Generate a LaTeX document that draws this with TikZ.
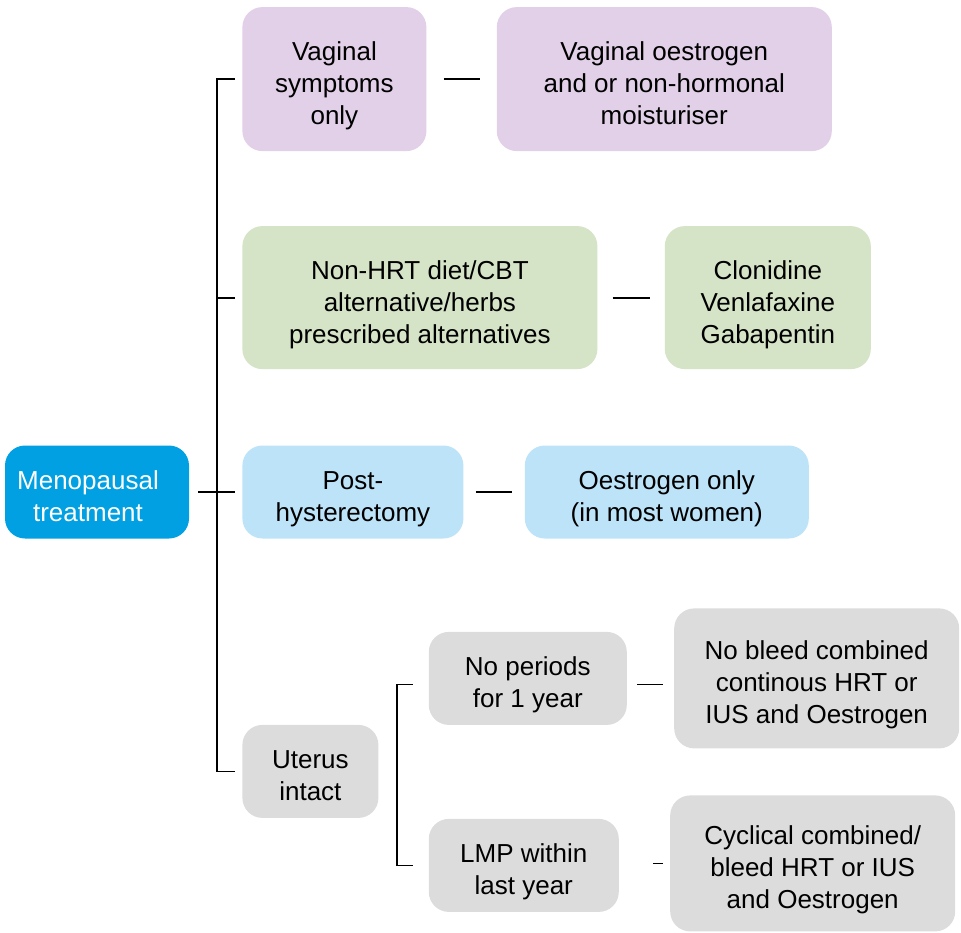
\documentclass[tikz,border=0pt]{standalone}
\usepackage{fontspec}
\setmainfont{Liberation Sans}
\usepackage{tikz}
\usetikzlibrary{positioning}
\usepackage{xcolor}

\definecolor{menoblue}{RGB}{0,160,227}
\definecolor{postblue}{RGB}{189,227,248}
\definecolor{vagpurple}{RGB}{225,208,232}
\definecolor{hrtgreen}{RGB}{213,227,198}
\definecolor{uterusgrey}{RGB}{220,220,220}

\begin{document}
\begin{tikzpicture}[x=1pt, y=-1pt,
        box/.style={rectangle, rounded corners=20pt, inner sep=0pt, align=center,
                    font=\fontsize{26}{32}\selectfont, minimum height=93pt,
                    text height=59pt, text depth=0pt},
        tall/.style={text height=91pt},
        rootbox/.style={box, fill=menoblue, text=white, execute at end node={\hspace*{18pt}}},
        bluebox/.style={box, fill=postblue},
        purplebox/.style={box, tall, fill=vagpurple, minimum height=144pt},
        greenbox/.style={box, tall, fill=hrtgreen, minimum height=143pt},
        greybox/.style={box, fill=uterusgrey},
        link/.style={line width=1.8pt}]

        \useasboundingbox (0,0) rectangle (961,932);

        % NODES
        % -----------------

        \node[rootbox, minimum width=184pt] at (97,492) (treat) {Menopausal\\treatment};

        \node[bluebox, right=53pt of treat, minimum width=221pt] (posthys) {Post-\\hysterectomy};
        \node[bluebox, right=61pt of posthys, minimum width=284pt] (oesonly) {Oestrogen only\\(in most women)};

        \node[purplebox, above=294pt of posthys.north west, anchor=south west, minimum width=184pt] (vagsym) {Vaginal\\symptoms\\only};
        \node[purplebox, right=70pt of vagsym, minimum width=335pt] (vagoes) {Vaginal oestrogen\\and or non-hormonal\\moisturiser};

        \node[greenbox, above=76pt of posthys.north west, anchor=south west, minimum width=355pt] (nonhrt) {Non-HRT diet/CBT\\alternative/herbs\\prescribed alternatives};
        \node[greenbox, right=67pt of nonhrt, minimum width=206pt] (clon) {Clonidine\\Venlafaxine\\Gabapentin};

        \node[greybox, below=186pt of posthys.south west, anchor=north west, minimum width=136pt] (uterus) {Uterus\\intact};
        \node[greybox, right=50pt of uterus, yshift=93pt, minimum width=198pt] (noper) {No periods\\for 1 year};
        \node[greybox, right=50pt of uterus, yshift=-94pt, minimum width=190pt] (lmp) {LMP within\\last year};
        \node[greybox, tall, right=47pt of noper, minimum width=285pt, minimum height=140pt] (nobleed) {No bleed combined\\continous HRT or\\IUS and Oestrogen};
        \node[greybox, tall, right=51pt of lmp, yshift=2pt, minimum width=285pt, minimum height=136pt] (cyclic) {Cyclical combined/\\bleed HRT or IUS\\and Oestrogen};

        \coordinate (trunk) at ([xshift=-25pt]posthys.west);
        \coordinate (fork) at ([xshift=-32pt]noper.west);

        % EDGES
        % -----------------

        % main bracket
        \draw[link] ([xshift=-7pt]vagsym.west) -| (trunk |- uterus.west) -- ([xshift=-7pt]uterus.west);
        \draw[link] ([xshift=-7pt]nonhrt.west) -- (trunk |- nonhrt.west);
        \draw[link] ([xshift=9pt]treat.east) -- ([xshift=-7pt]posthys.west);

        % uterus bracket
        \draw[link] ([xshift=-16pt, yshift=-6pt]noper.west) -| (fork |- lmp.west) -- ([xshift=-16pt]lmp.west);

        % treatments
        \draw[link, shorten <=17pt, shorten >=17pt] (vagsym) -- (vagoes);
        \draw[link, shorten <=15pt, shorten >=15pt] (nonhrt) -- (clon);
        \draw[link, shorten <=12pt, shorten >=13pt] (posthys) -- (oesonly);
        \draw[link, shorten <=10pt, shorten >=11pt] ([yshift=-6pt]noper.east) -- ([yshift=-6pt]nobleed.west);
        \draw[link, shorten <=34pt, shorten >=7pt] ([yshift=2pt]lmp.east) -- (cyclic.west);

\end{tikzpicture}
\end{document}
